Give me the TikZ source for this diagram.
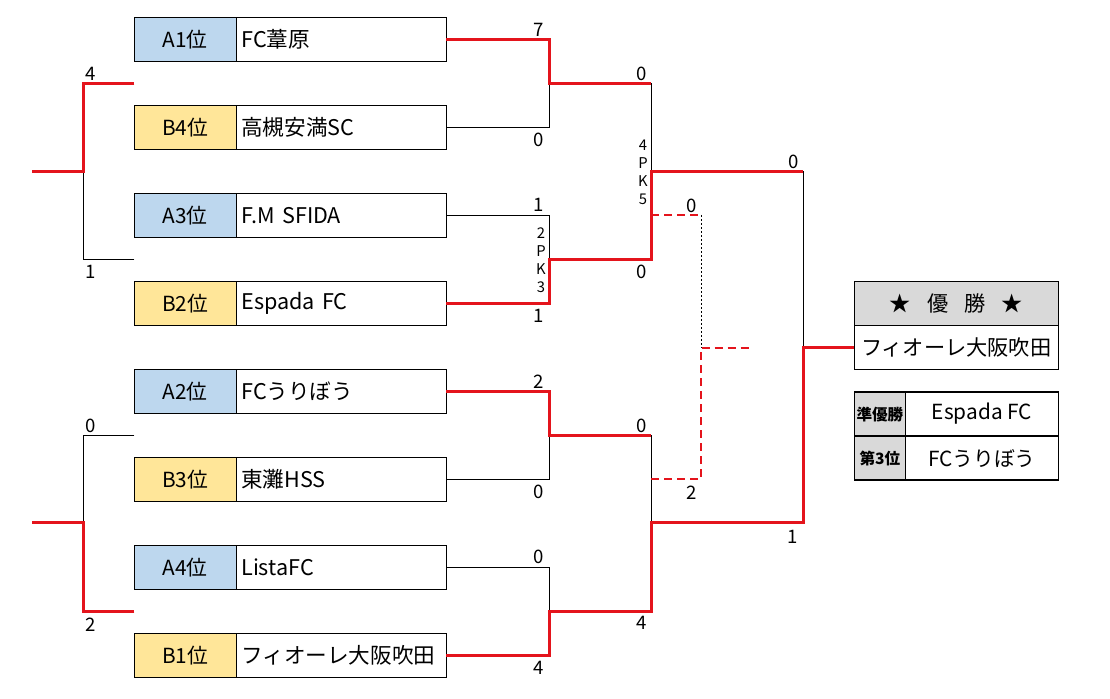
\documentclass[tikz,border=0pt]{standalone}
\usepackage{fontspec}
\setmainfont{Noto Sans CJK JP}
\usepackage{tikz}
\usetikzlibrary{positioning}
\definecolor{lblue}{RGB}{189,215,238}
\definecolor{lyellow}{RGB}{255,230,153}
\definecolor{lgray}{RGB}{217,217,217}
\definecolor{lred}{RGB}{228,20,28}
\tikzset{
 bl/.style
  = {rectangle, draw, line width=0.6pt, fill=lblue, outer sep=0pt, inner sep=0pt,
     minimum width=51pt, minimum height=22pt, font=\fontsize{10.4}{12}\selectfont},
 yl/.style
  = {bl, fill=lyellow},
 nm/.style
  = {rectangle, draw, line width=0.6pt, outer sep=0pt, inner xsep=2.5pt, inner ysep=0pt,
     text width=100pt, minimum height=22pt, font=\fontsize{10.8}{12}\selectfont},
 hd/.style
  = {rectangle, draw, line width=0.6pt, fill=lgray, outer sep=0pt, inner sep=0pt,
     minimum width=102pt, minimum height=22pt, font=\fontsize{10.6}{12}\selectfont},
 cn/.style
  = {hd, fill=white},
 gy/.style
  = {rectangle, draw, line width=0.6pt, fill=lgray, outer sep=0pt, inner sep=0pt,
     minimum width=25.7pt, minimum height=22pt, font=\bfseries\fontsize{7.8}{10}\selectfont},
 gt/.style
  = {rectangle, draw, line width=0.6pt, outer sep=0pt, inner sep=0pt,
     minimum width=76.3pt, minimum height=22pt, font=\fontsize{10.4}{12}\selectfont},
 rl/.style
  = {draw=lred, line width=1.5pt},
 bk/.style
  = {draw, line width=0.5pt},
 dl/.style
  = {draw=lred, line width=1pt, dash pattern=on 4pt off 2.5pt},
 dt/.style
  = {draw, line width=0.4pt, dash pattern=on 1pt off 1pt},
 sc/.style
  = {inner sep=0pt, font=\fontsize{9.3}{10}\selectfont},
 pk/.style
  = {inner sep=0pt, align=center, font=\fontsize{7.4}{9}\selectfont},
}
\begin{document}
\begin{tikzpicture}[x=0.5pt, y=-0.5pt]
    \useasboundingbox (0,0) rectangle (1110,699);

    % teams
    \node [bl] (a1) at (185.3,39.3) {A1位};
    \node [nm, right = 0pt of a1] (n1) {FC葦原};
    \node [yl, below = 22pt of a1] (b4) {B4位};
    \node [nm, right = 0pt of b4] (n2) {高槻安満SC};
    \node [bl, below = 22pt of b4] (a3) {A3位};
    \node [nm, right = 0pt of a3] (n3) {F.M SFIDA};
    \node [yl, below = 22pt of a3] (b2) {B2位};
    \node [nm, right = 0pt of b2] (n4) {Espada FC};
    \node [bl, below = 22pt of b2] (a2) {A2位};
    \node [nm, right = 0pt of a2] (n5) {FCうりぼう};
    \node [yl, below = 22pt of a2] (b3) {B3位};
    \node [nm, right = 0pt of b3] (n6) {東灘HSS};
    \node [bl, below = 22pt of b3] (a4) {A4位};
    \node [nm, right = 0pt of a4] (n7) {ListaFC};
    \node [yl, below = 22pt of a4] (b1) {B1位};
    \node [nm, right = 0pt of b1] (n8) {フィオーレ大阪吹田};

    % results
    \node [hd] (ch) at (956.2,303.7) {★\hspace{.75em}優\hspace{.75em}勝\hspace{.75em}★};
    \node [cn, below = 0pt of ch] (chn) {フィオーレ大阪吹田};
    \node [gy, below right = 11.2pt and 0pt of chn.south west] (ru) {準優勝};
    \node [gt, right = 0pt of ru] (rut) {Espada FC};
    \node [gy, below = 0pt of ru] (th) {第3位};
    \node [gt, right = 0pt of th] (tht) {FCうりぼう};

    % joints
    \coordinate (q1) at (549,83.3);
    \coordinate (q2) at (549,259.3);
    \coordinate (q3) at (549,435.5);
    \coordinate (q4) at (549,611.5);
    \coordinate (t1) at (651,83.3);
    \coordinate (t2) at (651,259.3);
    \coordinate (t3) at (651,435.5);
    \coordinate (t4) at (651,611.5);
    \coordinate (s1) at (651,171.5);
    \coordinate (s2) at (651,523);
    \coordinate (u1) at (803.3,171.5);
    \coordinate (u2) at (803.3,523);
    \coordinate (f) at (803.3,347.7);
    \coordinate (p1) at (651,215);
    \coordinate (p2) at (651,479);
    \coordinate (p3) at (701,347.7);
    \coordinate (p4) at (753,347.7);
    \coordinate (e1) at (134.3,83.3);
    \coordinate (e2) at (134.3,259.3);
    \coordinate (e3) at (134.3,435.5);
    \coordinate (e4) at (134.3,611.5);
    \coordinate (l1) at (83.3,171.5);
    \coordinate (l2) at (83.3,523);
    \coordinate (l0) at (32,171.5);
    \coordinate (l3) at (32,523);

    % bracket
    \path [bk] (n2.east) -| (q1);
    \path [bk] (n3.east) -| (q2);
    \path [bk] (n6.east) -| (q3);
    \path [bk] (n7.east) -| (q4);
    \path [bk] (t1) -- (s1);
    \path [bk] (t3) -- (s2);
    \path [bk] (u1) -- (f);
    \path [rl] (n1.east) -| (q1) -- (t1);
    \path [rl] (n4.east) -| (q2) -- (t2) -- (s1) -- (u1);
    \path [rl] (n5.east) -| (q3) -- (t3);
    \path [rl] (n8.east) -| (q4) -- (t4) -- (s2) -- (u2) -- (f) -- (chn.west);
    \path [dl] (p1) -- (p1 -| p3);
    \path [dt] (p1 -| p3) -- (p3);
    \path [dl] (p2) -| (p3) -- (p4);
    \path [bk] (e2) -| (l1);
    \path [bk] (e3) -| (l2);
    \path [rl] (e1) -| (l1) -- (l0);
    \path [rl] (e4) -| (l2) -- (l3);

    % scores
    \node [sc] at (91,74) {4};
    \node [sc] at (91,272) {1};
    \node [sc] at (91,426) {0};
    \node [sc] at (91,625) {2};
    \node [sc] at (539,30) {7};
    \node [sc] at (539,140) {0};
    \node [sc] at (539,205) {1};
    \node [sc] at (539,316) {1};
    \node [sc] at (539,382) {2};
    \node [sc] at (539,492) {0};
    \node [sc] at (539,557) {0};
    \node [sc] at (539,668) {4};
    \node [sc] at (642,74) {0};
    \node [sc] at (642,272) {0};
    \node [sc] at (642,426) {0};
    \node [sc] at (642,623) {4};
    \node [sc] at (692,206) {0};
    \node [sc] at (692,493) {2};
    \node [sc] at (794,162) {0};
    \node [sc] at (793,537) {1};
    \node [pk] at (541,260) {2\\P\\K\\3};
    \node [pk] at (643,172) {4\\P\\K\\5};
  \end{tikzpicture}
\end{document}
